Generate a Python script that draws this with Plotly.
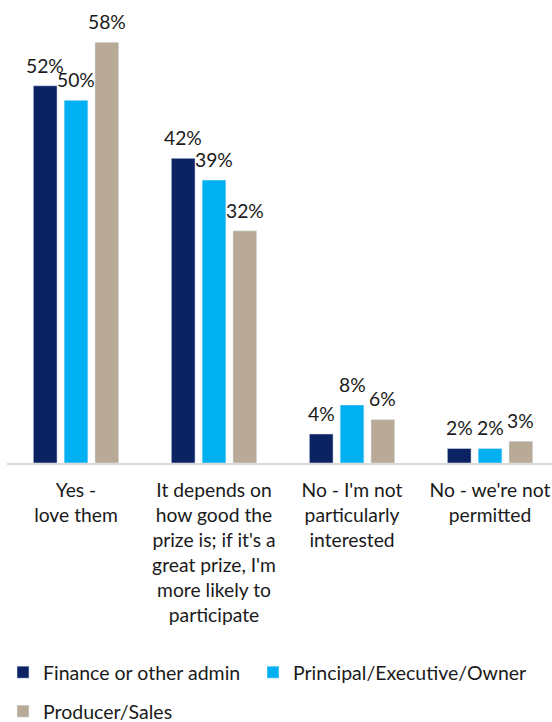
import plotly.graph_objects as go

categories = [
    "Yes -<br>love them",
    "It depends on<br>how good the<br>prize is; if it's a<br>great prize, I'm<br>more likely to<br>participate",
    "No - I'm not<br>particularly<br>interested",
    "No - we're not<br>permitted",
]
finance = [52, 42, 4, 2]
principal = [50, 39, 8, 2]
producer = [58, 32, 6, 3]

series = [
    ("Finance or other admin", finance, "#0B2263", "legend"),
    ("Principal/Executive/Owner", principal, "#00B0F0", "legend3"),
    ("Producer/Sales", producer, "#B8AA96", "legend2"),
]

FONT = "Lato, 'Liberation Sans', sans-serif"
TEXT = "#1a1a1a"
SIZE = 19.3
BARGAP = 0.33
SLOT = (1 - BARGAP) / len(series)  # width of one bar slot, in category units

x = list(range(len(categories)))
fig = go.Figure()
for k, (name, vals, color, lg) in enumerate(series):
    fig.add_trace(go.Bar(
        x=x, y=vals, name=name, marker_color=color, legend=lg,
    ))
    # value labels sitting a little above each bar
    for i, v in enumerate(vals):
        fig.add_annotation(
            x=i + (k - 1) * SLOT, y=v, xref="x", yref="y",
            text=f"{v}%", showarrow=False, yanchor="bottom", yshift=7,
            font=dict(size=SIZE, color=TEXT, family=FONT),
        )

legend_common = dict(
    orientation="h", xref="container", yref="container",
    xanchor="left", yanchor="top",
    font=dict(size=19.5, color=TEXT), bgcolor="rgba(0,0,0,0)",
)

fig.update_layout(
    width=552, height=722,
    margin=dict(l=7, r=0, t=6, b=259),
    paper_bgcolor="white", plot_bgcolor="white",
    barmode="group", bargap=BARGAP, bargroupgap=0.23,
    font=dict(family=FONT, size=SIZE, color=TEXT),
    xaxis=dict(
        range=[-0.5, 3.449], tickmode="array", tickvals=x, ticktext=categories,
        showline=True, linecolor="#D9D9D9", linewidth=1.5,
        showgrid=False, zeroline=False, ticks="", ticklabelstandoff=9,
        tickfont=dict(size=SIZE, color=TEXT),
    ),
    yaxis=dict(range=[0, 63], visible=False, showgrid=False, zeroline=False),
    legend=dict(legend_common, x=3 / 552, y=(722 - 653) / 722),
    legend3=dict(legend_common, x=253 / 552, y=(722 - 653) / 722),
    legend2=dict(legend_common, x=3 / 552, y=(722 - 692) / 722),
    showlegend=True,
)

fig.write_html("out.html")
